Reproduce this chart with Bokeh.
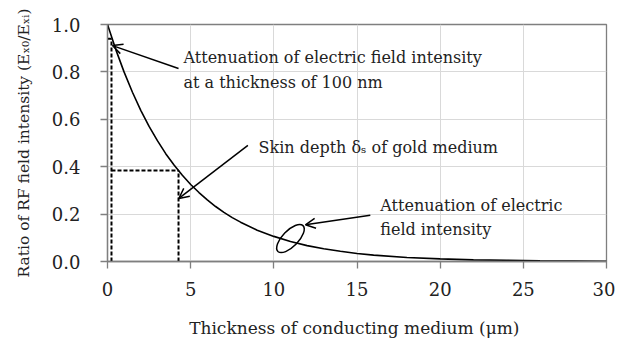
from bokeh.plotting import figure
from bokeh.models import Arrow, OpenHead, Label, Range1d, FixedTicker
from bokeh.embed import file_html
from bokeh.resources import INLINE

# Curve values (thickness in um, ratio E_x0/E_xi)
thickness = [0, 0.5, 1, 1.5, 2, 2.5, 3, 3.5, 4, 4.5, 5, 5.5, 6, 6.5, 7, 7.5, 8,
             9, 10, 11, 12, 13, 14, 15, 16, 18, 20, 22, 24, 26, 28, 30]
ratio = [1.000, 0.894, 0.799, 0.714, 0.638, 0.570, 0.510, 0.455, 0.407, 0.364,
         0.325, 0.291, 0.260, 0.232, 0.207, 0.185, 0.166, 0.132, 0.106, 0.084,
         0.067, 0.054, 0.043, 0.034, 0.027, 0.017, 0.011, 0.007, 0.005, 0.003,
         0.002, 0.001]

x_ticks = [0, 5, 10, 15, 20, 25, 30]
y_ticks = [0.0, 0.2, 0.4, 0.6, 0.8, 1.0]

# Marked points
thin_x, thin_y = 0.24, 0.94      # 100 nm marker
skin_x, skin_y = 4.27, 0.384     # skin depth marker

FONT = "DejaVu Serif"

p = figure(width=615, height=341, output_backend="svg", toolbar_location=None,
           x_range=Range1d(0, 30), y_range=Range1d(0, 1.0),
           min_border_left=107, min_border_right=9, min_border_top=24,
           min_border_bottom=80)

p.background_fill_color = "white"
p.border_fill_color = "white"
p.outline_line_color = "#7f7f7f"
p.outline_line_width = 1.3

p.xaxis.ticker = FixedTicker(ticks=x_ticks)
p.yaxis.ticker = FixedTicker(ticks=y_ticks)
p.yaxis.major_label_overrides = {v: f"{v:.1f}" for v in y_ticks}
p.xgrid.grid_line_color = "#d9d9d9"
p.ygrid.grid_line_color = "#d9d9d9"
p.xgrid.grid_line_width = 1
p.ygrid.grid_line_width = 1

for ax in (p.xaxis[0], p.yaxis[0]):
    ax.axis_line_color = "#7f7f7f"
    ax.axis_line_width = 1.3
    ax.major_tick_line_color = "#7f7f7f"
    ax.major_tick_line_width = 1.3
    ax.major_tick_in = 0
    ax.major_tick_out = 7
    ax.minor_tick_line_color = None
    ax.major_label_text_font = FONT
    ax.major_label_text_font_size = "18px"
    ax.major_label_text_color = "#222222"
    ax.axis_label_text_font = FONT
    ax.axis_label_text_font_style = "normal"
    ax.axis_label_text_color = "#222222"

p.xaxis.axis_label_text_font_size = "17px"
p.yaxis.axis_label_text_font_size = "15.5px"
p.xaxis.major_label_standoff = 13
p.yaxis.major_label_standoff = 20
p.xaxis.axis_label = "Thickness of conducting medium  (\u03bcm)"
p.yaxis.axis_label = "Ratio of RF field intensity (E\u2093\u2080/E\u2093\u1d62)"
p.xaxis.axis_label_standoff = 19
p.yaxis.axis_label_standoff = 16

# Curve
p.line(thickness, ratio, line_color="black", line_width=1.6)

# Dashed guide lines
dash = dict(line_color="black", line_width=2, line_dash="4 2")
p.line([thin_x, thin_x], [0, thin_y], **dash)
p.line([0, thin_x], [thin_y, thin_y], **dash)
p.line([thin_x, skin_x], [skin_y, skin_y], **dash)
p.line([skin_x, skin_x], [0, skin_y], **dash)

# Ellipse around curve
p.ellipse(x=11.0, y=0.097, width=36, height=16, width_units="screen",
          height_units="screen", angle=0.8, fill_color=None,
          line_color="black", line_width=1.5)

# Arrows
def arrow(xs, ys, xe, ye):
    p.add_layout(Arrow(end=OpenHead(size=10, line_width=1.5, line_color="black"),
                       x_start=xs, y_start=ys, x_end=xe, y_end=ye,
                       line_color="black", line_width=1.5))

arrow(4.27, 0.814, 0.3, 0.911)
arrow(8.44, 0.49, 4.29, 0.266)
arrow(15.8, 0.195, 11.9, 0.155)

txt = dict(text_font=FONT, text_font_size="16px", text_color="#222222",
           text_baseline="middle")
p.add_layout(Label(x=4.57, y=0.861, text="Attenuation  of electric  field intensity", **txt))
p.add_layout(Label(x=4.57, y=0.755, text="at a thickness of  100 nm", **txt))
p.add_layout(Label(x=9.08, y=0.481, text="Skin depth \u03b4\u209b of gold medium", **txt))
p.add_layout(Label(x=16.4, y=0.236, text="Attenuation  of electric", **txt))
p.add_layout(Label(x=16.4, y=0.135, text="field  intensity", **txt))

open("out.html", "w").write(file_html(p, INLINE))
